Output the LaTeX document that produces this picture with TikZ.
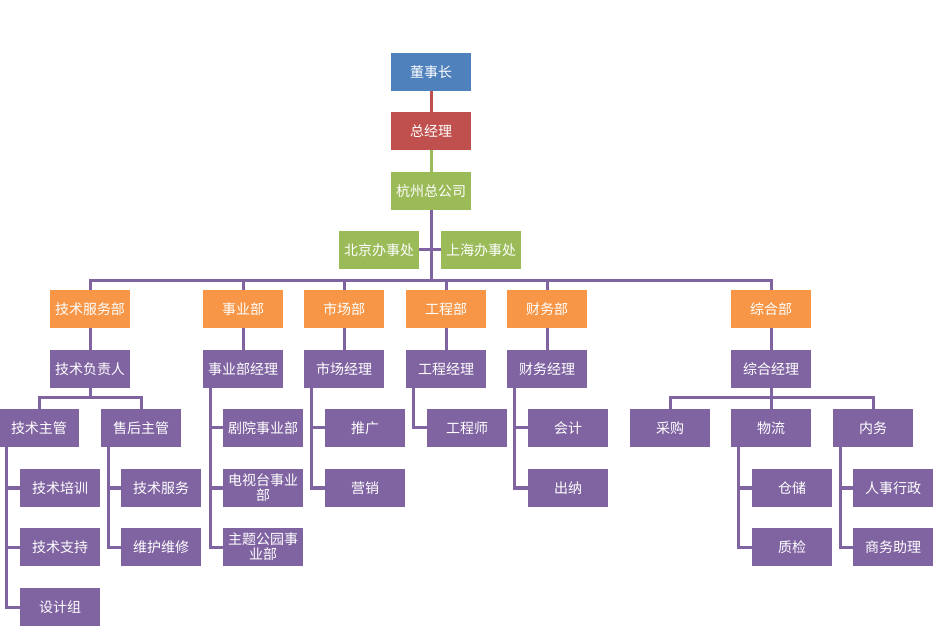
\documentclass[tikz,border=0pt]{standalone}
\usepackage{fontspec}
\newfontfamily\cjk{Noto Sans CJK SC}
\definecolor{cblue}{HTML}{4F81BD}
\definecolor{cred}{HTML}{C0504D}
\definecolor{cgreen}{HTML}{9BBB59}
\definecolor{corange}{HTML}{F79646}
\definecolor{cpurple}{HTML}{8064A2}
\tikzset{
 bx/.style={minimum width=80pt,minimum height=38pt,inner sep=1pt,text=white,font=\cjk\fontsize{14}{15}\selectfont,align=center,text width=78pt},
 pb/.style={bx,fill=cpurple},
 gb/.style={bx,fill=cgreen},
 ob/.style={bx,fill=corange},
 ln/.style={draw=cpurple,line width=3pt},
}
\begin{document}
\begin{tikzpicture}[x=1pt,y=-1pt]
\useasboundingbox (0,0) rectangle (938,644);
\node[bx,fill=cblue] (dsz) at (431,72) {董事长};
\node[bx,fill=cred] (zjl) at (431,131) {总经理};
\node[gb] (hz) at (431,191) {杭州总公司};
\node[gb] (bj) at (379,250) {北京办事处};
\node[gb] (sh) at (481,250) {上海办事处};
\node[ob] (js) at (90,309) {技术服务部};
\node[ob] (sy) at (243,309) {事业部};
\node[ob] (sc) at (344,309) {市场部};
\node[ob] (gc) at (446,309) {工程部};
\node[ob] (cw) at (547,309) {财务部};
\node[ob] (zh) at (771,309) {综合部};
\node[pb] (jsf) at (90,369) {技术负责人};
\node[pb] (syj) at (243,369) {事业部经理};
\node[pb] (scj) at (344,369) {市场经理};
\node[pb] (gcj) at (446,369) {工程经理};
\node[pb] (cwj) at (547,369) {财务经理};
\node[pb] (zhj) at (771,369) {综合经理};
\node[pb] (jzg) at (39,428) {技术主管};
\node[pb] (shg) at (141,428) {售后主管};
\node[pb] (jy) at (263,428) {剧院事业部};
\node[pb] (tg) at (365,428) {推广};
\node[pb] (gcs) at (467,428) {工程师};
\node[pb] (kj) at (568,428) {会计};
\node[pb] (cg) at (670,428) {采购};
\node[pb] (wl) at (771,428) {物流};
\node[pb] (nw) at (873,428) {内务};
\node[pb] (jpx) at (60,488) {技术培训};
\node[pb] (jfw) at (161,488) {技术服务};
\node[pb] (dst) at (263,488) {电视台事业\\部};
\node[pb] (yx) at (365,488) {营销};
\node[pb] (cn) at (568,488) {出纳};
\node[pb] (cc) at (792,488) {仓储};
\node[pb] (rs) at (893,488) {人事行政};
\node[pb] (jzc) at (60,547) {技术支持};
\node[pb] (whx) at (161,547) {维护维修};
\node[pb] (ztg) at (263,547) {主题公园事\\业部};
\node[pb] (zj) at (792,547) {质检};
\node[pb] (swz) at (893,547) {商务助理};
\node[pb] (sjz) at (60,607) {设计组};
% top connectors
\draw[draw=cred,line width=3pt] (dsz.south) -- (zjl.north);
\draw[draw=cgreen,line width=3pt] (zjl.south) -- (hz.north);
\coordinate (bus) at (431,281);
\draw[ln] (hz.south) -- (bus);
\draw[ln] (bj.east) -- (sh.west);
\draw[ln] (js.north) |- (bus) -| (zh.north);
\foreach \n in {sy,sc,gc,cw} \draw[ln] (\n.north) -- (\n.north |- bus);
\foreach \a/\b in {js/jsf,sy/syj,sc/scj,gc/gcj,cw/cwj,zh/zhj} \draw[ln] (\a) -- (\b);
\coordinate (b1) at (90,398);
\draw[ln] (jsf.south) -- (b1);
\draw[ln] (jzg.north) |- (b1) -| (shg.north);
\coordinate (b2) at (771,398);
\draw[ln] (cg.north) |- (b2) -| (nw.north);
\draw[ln] (zhj.south) -- (wl.north);
% side connectors
\draw[ln] ([xshift=8pt]jzg.south west) |- (jpx.west);
\draw[ln] ([xshift=8pt]jzg.south west) |- (jzc.west);
\draw[ln] ([xshift=8pt]jzg.south west) |- (sjz.west);
\draw[ln] ([xshift=8pt]shg.south west) |- (jfw.west);
\draw[ln] ([xshift=8pt]shg.south west) |- (whx.west);
\foreach \c in {jy,dst,ztg} \draw[ln] ([xshift=8pt]syj.south west) |- (\c.west);
\foreach \c in {tg,yx} \draw[ln] ([xshift=8pt]scj.south west) |- (\c.west);
\draw[ln] ([xshift=8pt]gcj.south west) |- (gcs.west);
\foreach \c in {kj,cn} \draw[ln] ([xshift=8pt]cwj.south west) |- (\c.west);
\foreach \c in {cc,zj} \draw[ln] ([xshift=8pt]wl.south west) |- (\c.west);
\foreach \c in {rs,swz} \draw[ln] ([xshift=8pt]nw.south west) |- (\c.west);
\end{tikzpicture}
\end{document}
